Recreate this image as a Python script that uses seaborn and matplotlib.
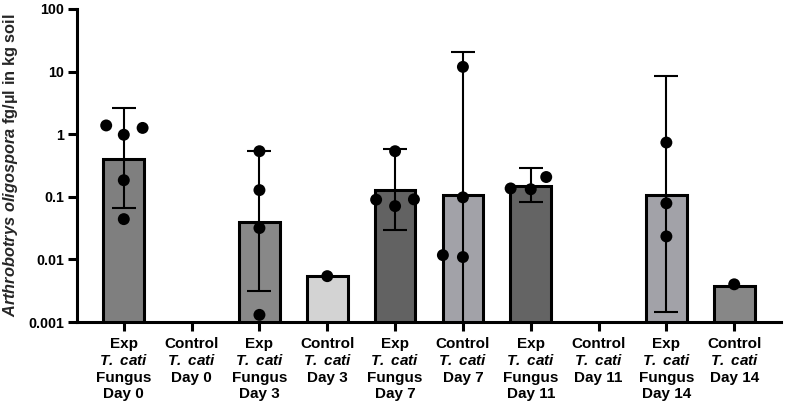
import numpy as np
import pandas as pd
import matplotlib
matplotlib.use("Agg")
import matplotlib.pyplot as plt
import seaborn as sns

# ---- data ----
categories = ["Exp T.cati Fungus Day 0", "Control T.cati Day 0",
              "Exp T.cati Fungus Day 3", "Control T.cati Day 3",
              "Exp T.cati Fungus Day 7", "Control T.cati Day 7",
              "Exp T.cati Fungus Day 11", "Control T.cati Day 11",
              "Exp T.cati Fungus Day 14", "Control T.cati Day 14"]
tick_labels = [
    "Exp\n$\\mathbfit{T.\\ cati}$\nFungus\nDay 0",
    "Control\n$\\mathbfit{T.\\ cati}$\nDay 0\n ",
    "Exp\n$\\mathbfit{T.\\ cati}$\nFungus\nDay 3",
    "Control\n$\\mathbfit{T.\\ cati}$\nDay 3\n ",
    "Exp\n$\\mathbfit{T.\\ cati}$\nFungus\nDay 7",
    "Control\n$\\mathbfit{T.\\ cati}$\nDay 7\n ",
    "Exp\n$\\mathbfit{T.\\ cati}$\nFungus\nDay 11",
    "Control\n$\\mathbfit{T.\\ cati}$\nDay 11\n ",
    "Exp\n$\\mathbfit{T.\\ cati}$\nFungus\nDay 14",
    "Control\n$\\mathbfit{T.\\ cati}$\nDay 14\n ",
]
means = [0.40, np.nan, 0.040, 0.0054, 0.127, 0.106, 0.147, np.nan, 0.107, 0.0038]
err_upper = [2.67, np.nan, 0.535, np.nan, 0.575, 20.3, 0.293, np.nan, 8.6, np.nan]
err_lower = [0.066, np.nan, 0.0031, np.nan, 0.030, 1e-5, 0.082, np.nan, 0.00143, np.nan]
points = {
    categories[0]: [1.38, 0.98, 1.26, 0.184, 0.044],
    categories[1]: [],
    categories[2]: [0.535, 0.128, 0.0317, 0.0013],
    categories[3]: [0.0054],
    categories[4]: [0.535, 0.071, 0.091, 0.090],
    categories[5]: [11.9, 0.098, 0.0109, 0.0117],
    categories[6]: [0.207, 0.132, 0.136],
    categories[7]: [],
    categories[8]: [0.736, 0.0787, 0.0233],
    categories[9]: [0.0040],
}
bar_colors = ["#7f7f7f", "#7f7f7f", "#888888", "#d3d3d3", "#626262",
              "#a2a2a8", "#646464", "#a2a2a8", "#a2a2a8", "#878787"]
y_ticks = [0.001, 0.01, 0.1, 1, 10, 100]
y_tick_labels = ["0.001", "0.01", "0.1", "1", "10", "100"]

# ---- style ----
sns.set_theme(style="ticks")
plt.rcParams["font.family"] = ["Liberation Sans", "DejaVu Sans"]
plt.rcParams["font.weight"] = "bold"
plt.rcParams["mathtext.fontset"] = "custom"
plt.rcParams["mathtext.rm"] = "Liberation Sans:bold"
plt.rcParams["mathtext.it"] = "Liberation Sans:italic:bold"
plt.rcParams["mathtext.bf"] = "Liberation Sans:bold"
plt.rcParams["mathtext.bfit"] = "Liberation Sans:italic:bold"

fig = plt.figure(figsize=(7.85, 4.08), dpi=100)
ax = fig.add_axes([77 / 785, 1 - 322 / 408, 704 / 785, 313 / 408])
ax.set_yscale("log")

bar_df = pd.DataFrame({"group": categories, "value": means})
sns.barplot(data=bar_df, x="group", y="value", hue="group", order=categories,
            hue_order=categories, palette=bar_colors, legend=False,
            errorbar=None, width=0.6, edgecolor="black", linewidth=2.2,
            saturation=1, ax=ax, zorder=2)

m = np.array(means)
lo = m - np.array(err_lower)
hi = np.array(err_upper) - m
xs = np.arange(len(categories))
ax.errorbar(xs, m, yerr=[lo, hi], fmt="none", ecolor="black",
            elinewidth=1.5, capsize=8.5, capthick=1.5, zorder=3)

pt_rows = [(g, v) for g in categories for v in points[g]]
pt_df = pd.DataFrame(pt_rows, columns=["group", "value"])
sns.swarmplot(data=pt_df, x="group", y="value", order=categories,
              color="black", size=8.6, linewidth=5.2, edgecolor="none",
              ax=ax, zorder=4)

ax.set_ylim(1e-3, 1e2)
ax.set_xlim(-0.69, 9.69)
ax.set_yticks(y_ticks)
ax.set_yticklabels(y_tick_labels)
ax.yaxis.set_minor_locator(matplotlib.ticker.NullLocator())
ax.set_xticks(xs)
ax.set_xticklabels(tick_labels, fontsize=11, fontweight="bold",
                   linespacing=1.22)
for lab in ax.get_yticklabels():
    lab.set_fontsize(10.3)
    lab.set_fontweight("bold")

ax.set_xlabel("")
ax.set_ylabel("$\\mathbfit{Arthrobotrys\\ oligospora}$ fg/µl in kg soil",
              fontsize=11.8, fontweight="bold")
ax.yaxis.set_label_coords(-0.081, 0.5)

for side in ["top", "right"]:
    ax.spines[side].set_visible(False)
for side in ["left", "bottom"]:
    ax.spines[side].set_linewidth(2.2)
    ax.spines[side].set_color("black")
ax.tick_params(axis="both", which="major", length=6.5, width=2.2,
               color="black", labelcolor="black")
ax.tick_params(axis="x", pad=4)
ax.tick_params(axis="y", pad=3)

fig.savefig("out.png", dpi=100)
